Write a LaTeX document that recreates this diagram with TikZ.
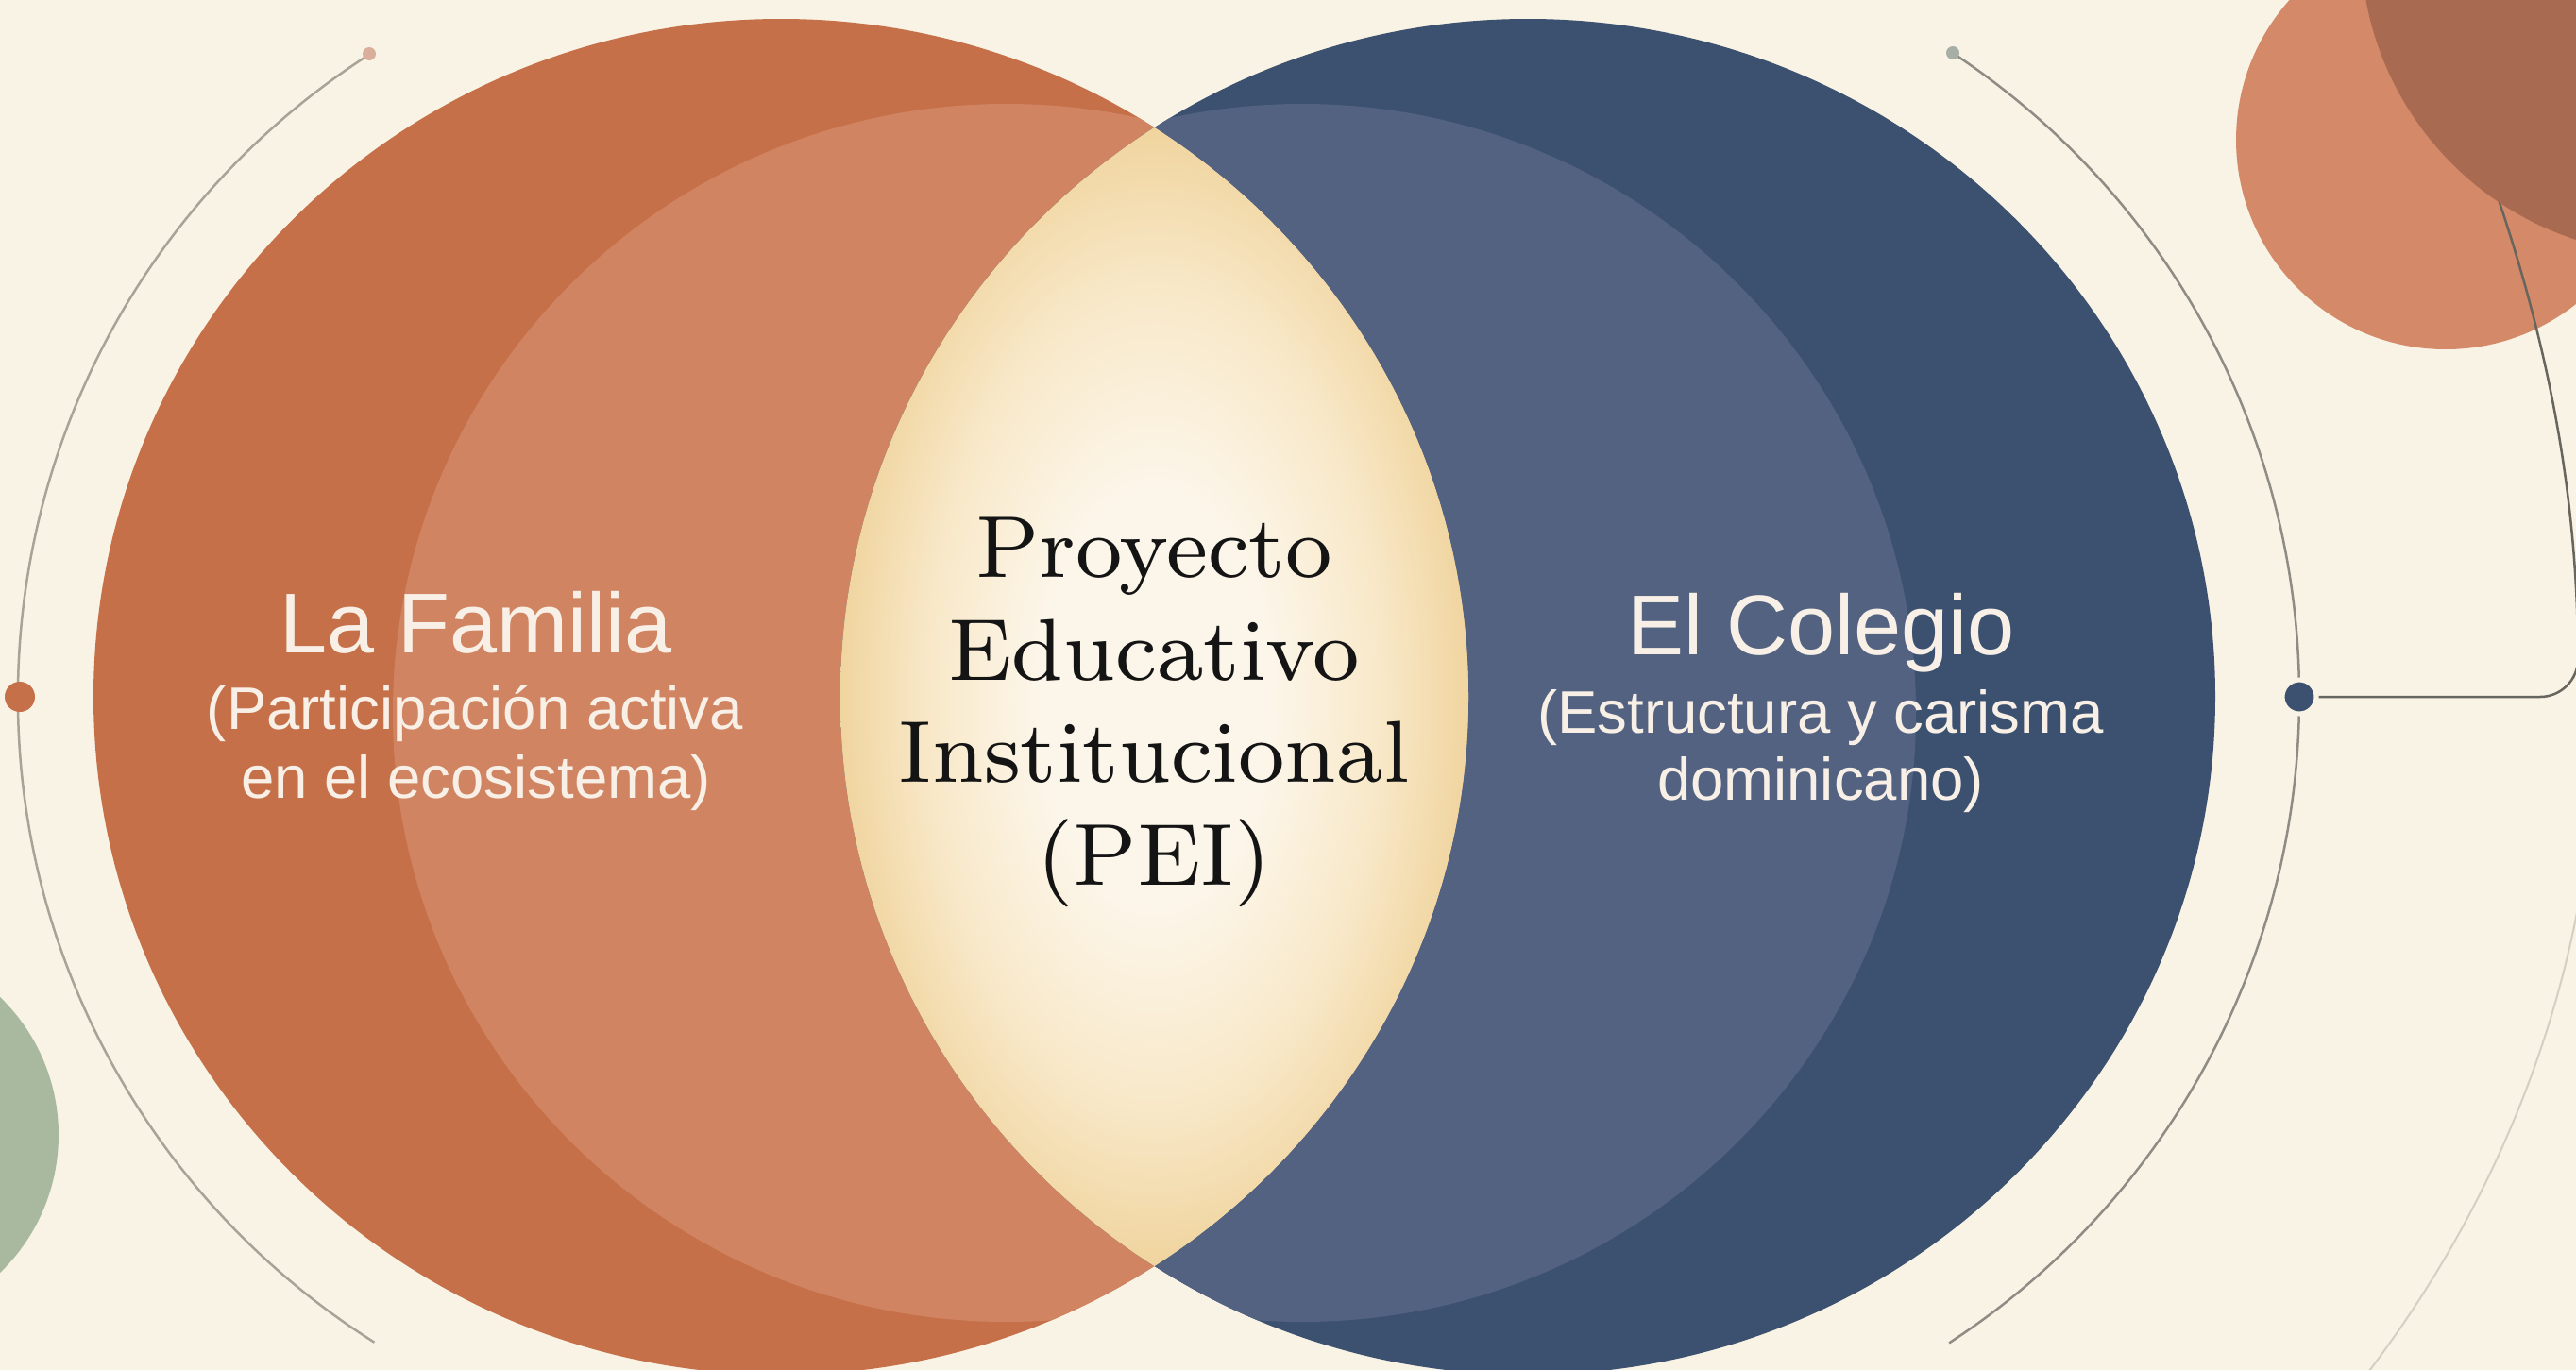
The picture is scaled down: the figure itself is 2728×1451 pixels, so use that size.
\documentclass[tikz,border=0pt]{standalone}
\usepackage{fontspec}
\newfontfamily\labelsans{Liberation Sans}
\newfontfamily\peifont{lmroman8-regular.otf}
\definecolor{bg}{HTML}{F8F3E4}
\definecolor{orOut}{HTML}{C6704A}
\definecolor{orIn}{HTML}{D08462}
\definecolor{blOut}{HTML}{3C5170}
\definecolor{blIn}{HTML}{526280}
\definecolor{peachDeco}{HTML}{D48968}
\definecolor{brownDeco}{HTML}{A86A50}
\definecolor{sageDeco}{HTML}{A8B9A0}
\definecolor{arcGrayL}{HTML}{A8A297}
\definecolor{arcGrayR}{HTML}{8E8C84}
\definecolor{lineDark}{HTML}{67665E}
\definecolor{lineLight}{HTML}{D3CFC3}
\definecolor{lensC}{HTML}{FCF6EA}
\definecolor{lensM}{HTML}{F8E8C8}
\definecolor{lensE}{HTML}{F0D49E}
\definecolor{txtLight}{HTML}{F8F0E6}
\definecolor{dotTopL}{HTML}{D9AE9A}
\definecolor{dotTopR}{HTML}{A7AEA6}
\pgfdeclareradialshading{lensglow}{\pgfpoint{0bp}{0bp}}{color(0bp)=(lensC); color(9bp)=(lensC); color(18bp)=(lensM); color(25bp)=(lensE); color(50bp)=(lensE)}
\begin{document}
\begin{tikzpicture}[x=1pt,y=-1pt,
  titletext/.style={anchor=base, text=txtLight, font=\labelsans\fontsize{90}{100}\selectfont, inner sep=0pt},
  subtext/.style={anchor=base, text=txtLight, font=\labelsans\fontsize{63.5}{73}\selectfont, inner sep=0pt},
  peitext/.style={anchor=base, text=black!92, font=\peifont\fontsize{93}{109}\selectfont, inner sep=0pt},
  arcL/.style={draw=arcGrayL, line width=2.5pt},
  arcR/.style={draw=arcGrayR, line width=2.5pt},
  dotnode/.style={circle, inner sep=0pt, minimum size=#1},
]
\useasboundingbox (0,0) rectangle (2728,1451);
\clip (0,0) rectangle (2728,1451);
\fill[bg] (0,0) rectangle (2728,1451);

\coordinate (lc) at (827,738);
\coordinate (rc) at (1618,738);

% decorative background circles
\fill[sageDeco] (-141,1202) circle[radius=203];
\fill[peachDeco] (2590,148) circle[radius=222];

% orbit arcs
\draw[arcL] ([shift={(237.4:808)}]lc) arc[start angle=237.4, end angle=122.2, radius=808];
\draw[arcR] ([shift={(-56.6:817)}]rc) arc[start angle=-56.6, end angle=56.9, radius=817];
\draw[lineLight, line width=2pt] (2745,850) .. controls (2728,1060) and (2645,1280) .. (2495,1470);

% dots
\node[dotnode=32, fill=orOut] (ldot) at (21,738) {};
\node[dotnode=14, fill=dotTopL] (ltop) at (391,57) {};
\node[dotnode=14, fill=dotTopR] (rtop) at (2068,56) {};
\node[dotnode=36, fill=blOut, draw=bg, line width=5pt] (rdot) at (2435,738) {};
\draw[lineDark, line width=2.5pt] (rdot.east) -- (2690,738)
  arc[start angle=90, end angle=0, radius=40]
  .. controls (2730,480) and (2680,260) .. (2560,-5);
\fill[brownDeco] (2830,-60) circle[radius=330];

% big circles
\fill[orOut] (lc) ellipse[x radius=728, y radius=718];
\begin{scope}
  \clip (lc) ellipse[x radius=728, y radius=718];
  \fill[orIn] (1066,755) ellipse[x radius=650, y radius=645];
\end{scope}
\fill[blOut] (rc) ellipse[x radius=728, y radius=718];
\begin{scope}
  \clip (rc) ellipse[x radius=728, y radius=718];
  \fill[blIn] (1379,755) ellipse[x radius=650, y radius=645];
\end{scope}
\begin{scope}
  \clip (lc) ellipse[x radius=728, y radius=718];
  \clip (rc) ellipse[x radius=728, y radius=718];
  \fill[lensE] (700,0) rectangle (1750,1451);
  \shade[shading=lensglow] (1222.5,738) ellipse[x radius=336, y radius=604];
\end{scope}

% texts
\node[titletext] (famT) at (504,691) {La Familia};
\node[subtext] (famS1) at (503,772) {(Participación activa};
\node[subtext] (famS2) at (504,845) {en el ecosistema)};
\node[titletext] (colT) at (1929,693) {El Colegio};
\node[subtext] (colS1) at (1928,776) {(Estructura y carisma};
\node[subtext] (colS2) at (1928,847) {dominicano)};
\node[peitext] (pei1) at (1222,611) {Proyecto};
\node[peitext] (pei2) at (1222,720) {Educativo};
\node[peitext] (pei3) at (1222,828) {Institucional};
\node[peitext] (pei4) at (1222,937) {(PEI)};
\end{tikzpicture}
\end{document}
